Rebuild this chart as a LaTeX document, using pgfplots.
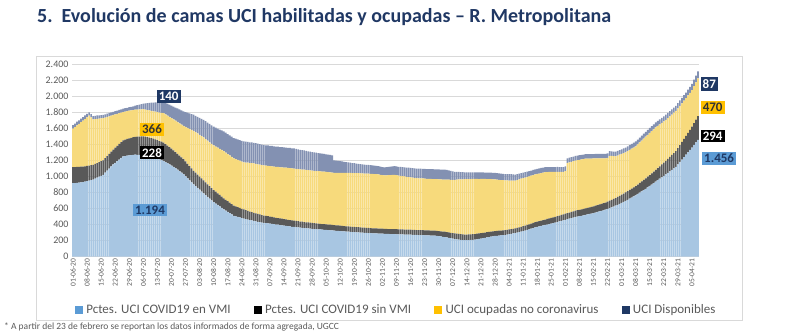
\documentclass[border=0pt]{standalone}
\usepackage{fontspec}
\setmainfont{Carlito}
\usepackage{pgfplots}
\usepackage{pgfplotstable}
\pgfplotsset{compat=1.18}
\definecolor{cVMI}{HTML}{A8C6E2}
\definecolor{cSin}{HTML}{595959}
\definecolor{cNo}{HTML}{F7DA7C}
\definecolor{cDisp}{HTML}{8391B2}
\definecolor{lBlue}{HTML}{5B9BD5}
\definecolor{lNavy}{HTML}{1F3864}
\definecolor{lYel}{HTML}{FFC000}
\definecolor{labgray}{HTML}{595959}
\definecolor{gridgray}{HTML}{D9D9D9}
\definecolor{titleblue}{HTML}{203864}

\pgfplotstableread[row sep=\\]{v\\
915\\917\\921\\924\\927\\930\\935\\941\\947\\954\\
960\\972\\984\\996\\1008\\1020\\1046\\1072\\1098\\1124\\
1150\\1170\\1190\\1210\\1230\\1250\\1254\\1258\\1262\\1265\\
1268\\1270\\1268\\1267\\1266\\1265\\1260\\1255\\1250\\1245\\
1240\\1231\\1222\\1212\\1203\\1194\\1179\\1164\\1150\\1135\\
1120\\1102\\1084\\1066\\1048\\1030\\1004\\978\\952\\926\\
900\\878\\856\\834\\812\\790\\768\\746\\724\\702\\
680\\662\\644\\626\\608\\590\\574\\558\\542\\526\\
510\\503\\496\\489\\482\\475\\469\\463\\457\\451\\
445\\440\\435\\430\\425\\420\\417\\414\\411\\408\\
405\\401\\398\\394\\391\\387\\384\\380\\377\\373\\
370\\367\\365\\362\\360\\357\\355\\352\\350\\347\\
345\\343\\341\\339\\337\\335\\333\\331\\329\\327\\
325\\323\\321\\319\\317\\315\\313\\311\\309\\307\\
305\\303\\302\\300\\299\\297\\296\\294\\293\\291\\
290\\289\\288\\287\\286\\285\\284\\283\\282\\281\\
280\\279\\278\\278\\277\\276\\275\\274\\274\\273\\
272\\271\\270\\269\\268\\267\\266\\265\\264\\263\\
262\\259\\255\\252\\248\\245\\240\\235\\230\\225\\
220\\217\\214\\211\\208\\205\\206\\208\\209\\211\\
212\\217\\221\\226\\230\\235\\240\\244\\249\\253\\
258\\260\\263\\265\\268\\270\\275\\280\\285\\290\\
295\\301\\307\\313\\319\\325\\333\\341\\349\\357\\
365\\371\\377\\383\\389\\395\\401\\407\\413\\419\\
425\\432\\439\\446\\453\\460\\467\\474\\481\\488\\
495\\500\\505\\510\\515\\520\\526\\532\\538\\544\\
550\\557\\564\\571\\578\\585\\595\\605\\615\\625\\
635\\647\\659\\671\\683\\695\\709\\723\\737\\751\\
765\\781\\797\\813\\829\\845\\863\\881\\899\\917\\
935\\953\\971\\989\\1007\\1025\\1044\\1063\\1082\\1101\\
1120\\1150\\1180\\1210\\1240\\1270\\1300\\1330\\1360\\1392\\
1424\\1456\\
}\sVMI

\pgfplotstableread[row sep=\\]{v\\
200\\198\\197\\195\\194\\192\\191\\189\\188\\186\\
185\\184\\183\\182\\181\\180\\181\\182\\183\\184\\
185\\188\\191\\194\\197\\200\\204\\208\\212\\216\\
220\\223\\226\\229\\232\\235\\234\\234\\233\\233\\
232\\231\\230\\229\\229\\228\\223\\219\\214\\210\\
205\\201\\197\\193\\189\\185\\182\\179\\176\\173\\
170\\168\\166\\164\\162\\160\\158\\156\\154\\152\\
150\\148\\145\\143\\140\\138\\135\\133\\130\\128\\
125\\123\\120\\118\\115\\113\\110\\108\\105\\103\\
100\\99\\97\\96\\94\\93\\91\\90\\88\\87\\
85\\84\\84\\83\\82\\82\\81\\80\\80\\79\\
78\\78\\77\\76\\76\\75\\74\\74\\73\\73\\
72\\72\\71\\71\\70\\70\\70\\69\\69\\69\\
68\\68\\68\\67\\67\\67\\66\\66\\66\\65\\
65\\65\\65\\65\\64\\64\\64\\64\\64\\63\\
63\\63\\63\\63\\63\\62\\62\\62\\62\\62\\
62\\63\\61\\62\\63\\62\\61\\62\\63\\62\\
62\\61\\62\\63\\62\\62\\61\\62\\62\\62\\
62\\63\\64\\64\\65\\66\\67\\68\\68\\69\\
70\\70\\71\\70\\70\\71\\70\\70\\70\\70\\
70\\69\\68\\68\\67\\66\\65\\64\\64\\63\\
62\\62\\61\\61\\60\\60\\60\\59\\59\\58\\
58\\59\\59\\60\\61\\61\\62\\63\\63\\64\\
65\\66\\66\\67\\68\\68\\69\\70\\70\\71\\
72\\73\\73\\74\\74\\75\\76\\76\\77\\77\\
78\\79\\79\\80\\81\\81\\82\\83\\83\\84\\
85\\86\\87\\88\\89\\90\\91\\92\\93\\94\\
95\\97\\99\\101\\103\\105\\107\\109\\111\\113\\
115\\118\\121\\124\\127\\130\\133\\136\\139\\142\\
145\\150\\155\\160\\165\\170\\175\\180\\185\\190\\
195\\203\\211\\219\\227\\235\\243\\251\\260\\271\\
282\\294\\
}\sSin

\pgfplotstableread[row sep=\\]{v\\
480\\498\\517\\535\\554\\572\\589\\605\\622\\594\\
565\\557\\549\\541\\533\\525\\506\\487\\468\\449\\
430\\414\\398\\383\\367\\351\\349\\346\\344\\341\\
339\\339\\338\\338\\338\\338\\337\\338\\339\\338\\
338\\344\\349\\355\\360\\366\\370\\374\\377\\381\\
385\\391\\397\\403\\409\\415\\432\\448\\465\\481\\
498\\505\\513\\520\\528\\535\\539\\543\\547\\551\\
555\\561\\568\\574\\581\\587\\588\\588\\589\\589\\
590\\590\\589\\589\\588\\588\\594\\600\\605\\611\\
617\\618\\619\\621\\622\\623\\625\\627\\628\\630\\
632\\634\\636\\637\\639\\641\\643\\645\\646\\648\\
650\\650\\650\\650\\650\\651\\651\\651\\651\\651\\
651\\652\\653\\653\\654\\655\\654\\653\\652\\650\\
652\\654\\656\\658\\660\\662\\664\\666\\668\\670\\
672\\673\\673\\674\\674\\675\\675\\676\\676\\677\\
677\\675\\673\\670\\668\\666\\668\\671\\673\\676\\
678\\675\\672\\668\\665\\662\\659\\656\\652\\649\\
646\\646\\645\\645\\644\\644\\643\\643\\642\\642\\
641\\643\\644\\646\\647\\649\\653\\657\\660\\664\\
668\\672\\677\\681\\686\\690\\689\\688\\688\\687\\
686\\682\\678\\675\\671\\667\\662\\657\\653\\648\\
643\\638\\634\\629\\625\\620\\615\\610\\604\\599\\
594\\595\\596\\598\\599\\600\\599\\598\\597\\596\\
595\\594\\593\\592\\591\\590\\584\\578\\572\\566\\
560\\553\\545\\538\\530\\532\\625\\626\\624\\625\\
625\\624\\623\\621\\620\\620\\614\\608\\602\\596\\
590\\582\\574\\566\\558\\550\\545\\560\\547\\533\\
520\\516\\512\\508\\504\\500\\499\\498\\497\\496\\
495\\500\\505\\510\\515\\520\\522\\524\\526\\528\\
530\\526\\522\\518\\514\\510\\508\\506\\504\\502\\
500\\494\\488\\482\\476\\470\\465\\460\\455\\460\\
465\\470\\
}\sNo

\pgfplotstableread[row sep=\\]{v\\
45\\44\\46\\44\\45\\43\\44\\43\\42\\43\\
42\\41\\43\\41\\42\\40\\41\\40\\41\\40\\
40\\41\\41\\42\\42\\42\\43\\43\\44\\44\\
45\\50\\55\\60\\65\\70\\78\\86\\94\\102\\
110\\116\\122\\128\\134\\140\\144\\148\\152\\156\\
160\\164\\168\\172\\176\\180\\184\\188\\192\\196\\
200\\204\\208\\212\\216\\220\\223\\226\\229\\232\\
235\\237\\239\\241\\243\\245\\247\\248\\250\\251\\
253\\254\\256\\257\\259\\260\\259\\259\\258\\258\\
257\\257\\256\\256\\255\\255\\255\\254\\254\\254\\
253\\253\\253\\252\\252\\252\\251\\251\\251\\250\\
250\\248\\246\\244\\242\\240\\238\\236\\234\\232\\
230\\228\\226\\224\\222\\220\\219\\218\\217\\215\\
155\\152\\148\\145\\142\\138\\135\\132\\128\\125\\
122\\118\\115\\114\\113\\111\\110\\109\\108\\106\\
105\\104\\103\\101\\100\\100\\101\\103\\104\\105\\
107\\108\\109\\111\\112\\113\\115\\116\\117\\119\\
120\\120\\121\\121\\121\\122\\122\\122\\123\\123\\
123\\124\\124\\124\\125\\125\\120\\115\\110\\105\\
100\\97\\94\\91\\88\\85\\85\\84\\84\\83\\
83\\82\\82\\81\\81\\80\\80\\81\\80\\79\\
80\\81\\80\\80\\79\\80\\80\\81\\80\\78\\
76\\74\\72\\70\\68\\66\\65\\65\\64\\64\\
64\\63\\63\\63\\62\\62\\62\\61\\61\\60\\
60\\60\\60\\59\\59\\59\\58\\58\\58\\57\\
57\\57\\57\\56\\56\\56\\56\\55\\55\\55\\
55\\55\\56\\56\\56\\56\\57\\57\\57\\57\\
58\\58\\58\\58\\59\\59\\59\\59\\60\\60\\
60\\60\\60\\61\\61\\61\\61\\62\\62\\62\\
62\\63\\63\\63\\63\\64\\64\\64\\64\\65\\
65\\66\\67\\68\\69\\70\\73\\75\\78\\81\\
84\\87\\
}\sDisp

\begin{document}
\begin{tikzpicture}
\useasboundingbox (0pt,0pt) rectangle (800pt,333pt);
\draw[gridgray, line width=0.6pt] (36.7pt,13pt) rectangle (742.7pt,277pt);
\node[anchor=west, inner sep=0pt, text=titleblue, font=\fontsize{20}{24}\selectfont\bfseries] at (37pt,316pt) {5.\ \ Evolución de camas UCI habilitadas y ocupadas – R. Metropolitana};
\node[anchor=base west, inner sep=0pt, text=labgray, font=\fontsize{9.5}{10}\selectfont] at (4pt,4pt) {* A partir del 23 de febrero se reportan los datos informados de forma agregada, UGCC};
\begin{axis}[
  at={(72pt,76.3pt)}, anchor=south west,
  scale only axis, width=627pt, height=192.7pt,
  xmin=-0.5, xmax=311.5, ymin=0, ymax=2400,
  ybar stacked, bar width=0.82,
  ytick={0,200,...,2400},
  xtick={0,7,...,308},
  xticklabels={01-06-20,08-06-20,15-06-20,22-06-20,29-06-20,06-07-20,13-07-20,20-07-20,27-07-20,03-08-20,10-08-20,17-08-20,24-08-20,31-08-20,07-09-20,14-09-20,21-09-20,28-09-20,05-10-20,12-10-20,19-10-20,26-10-20,02-11-20,09-11-20,16-11-20,23-11-20,30-11-20,07-12-20,14-12-20,21-12-20,28-12-20,04-01-21,11-01-21,18-01-21,25-01-21,01-02-21,08-02-21,15-02-21,22-02-21,01-03-21,08-03-21,15-03-21,22-03-21,29-03-21,05-04-21},
  x tick label style={rotate=90, anchor=east, font=\fontsize{7.5}{8}\selectfont, text=labgray, inner sep=2pt},
  y tick label style={font=\fontsize{10}{11}\selectfont, text=labgray},
  /pgf/number format/1000 sep={.},
  /pgf/number format/assume math mode=true,
  ymajorgrids, major grid style={draw=gridgray, line width=0.6pt},
  axis line style={draw=none}, major tick length=0pt,
  clip=false,
  legend columns=4,
  legend style={at={(0.517,-0.2766)}, anchor=center, draw=none, fill=none,
    font=\fontsize{13}{15}\selectfont, text=labgray,
    /tikz/every odd column/.append style={column sep=2pt},
    /tikz/every even column/.append style={column sep=21pt}},
]
\addplot[fill=cVMI, draw=none, forget plot] table[x expr=\coordindex, y=v] {\sVMI};
\addplot[fill=cSin, draw=none, forget plot] table[x expr=\coordindex, y=v] {\sSin};
\addplot[fill=cNo, draw=none, forget plot] table[x expr=\coordindex, y=v] {\sNo};
\addplot[fill=cDisp, draw=none, forget plot] table[x expr=\coordindex, y=v] {\sDisp};
\addlegendimage{legend image code/.code={\fill[lBlue] (0pt,-3.5pt) rectangle (7pt,3.5pt);}}
\addlegendentry{Pctes. UCI COVID19 en VMI}
\addlegendimage{legend image code/.code={\fill[black] (0pt,-3.5pt) rectangle (7pt,3.5pt);}}
\addlegendentry{Pctes. UCI COVID19 sin VMI}
\addlegendimage{legend image code/.code={\fill[lYel] (0pt,-3.5pt) rectangle (7pt,3.5pt);}}
\addlegendentry{UCI ocupadas no coronavirus}
\addlegendimage{legend image code/.code={\fill[lNavy] (0pt,-3.5pt) rectangle (7pt,3.5pt);}}
\addlegendentry{UCI Disponibles}
\coordinate (a1) at (axis cs:47.6,1993);
\coordinate (a2) at (axis cs:39.3,1590);
\coordinate (a3) at (axis cs:39.3,1295);
\coordinate (a4) at (axis cs:38.3,582);
\coordinate (b1) at (axis cs:316.6,2151);
\coordinate (b2) at (axis cs:318.3,1860);
\coordinate (b3) at (axis cs:318.3,1503);
\coordinate (b4) at (axis cs:321.5,1225);
\end{axis}
\tikzset{lab/.style={inner sep=2pt, font=\fontsize{13}{14}\selectfont\bfseries}}
\node[lab, fill=lNavy, text=white] at (a1) {140};
\node[lab, fill=lYel, text=black!80] at (a2) {366};
\node[lab, fill=black, text=white] at (a3) {228};
\node[lab, fill=lBlue, text=lNavy] at (a4) {1.194};
\node[lab, fill=lNavy, text=white] at (b1) {87};
\node[lab, fill=lYel, text=black!80] at (b2) {470};
\node[lab, fill=black, text=white] at (b3) {294};
\node[lab, fill=lBlue, text=lNavy] at (b4) {1.456};
\end{tikzpicture}
\end{document}
